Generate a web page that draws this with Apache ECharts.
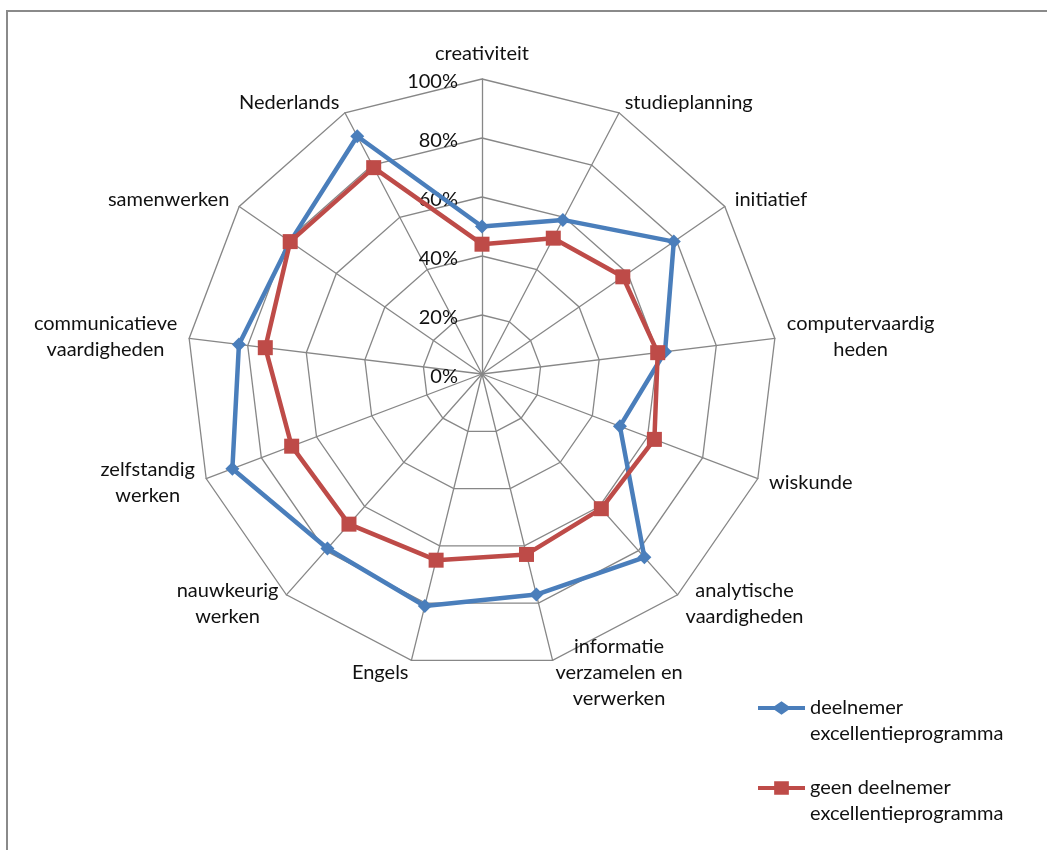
<!DOCTYPE html>
<html>
<head>
<meta charset="utf-8">
<script src="https://cdn.jsdelivr.net/npm/echarts@6/dist/echarts.min.js"></script>
<style>
html,body{margin:0;padding:0;background:#fff;overflow:hidden}
#c{width:1047px;height:850px;position:absolute;left:0;top:0}
#frame{position:absolute;left:6px;top:10px;width:1100px;height:900px;border-left:2px solid #8a8a8a;border-top:2px solid #8a8a8a;pointer-events:none}
</style>
</head>
<body>
<div id="c"></div>
<div id="frame"></div>
<script>
// Categories in clockwise order starting at the top
const categories = ['creativiteit', 'studieplanning', 'initiatief', 'computervaardig\nheden', 'wiskunde',
  'analytische\nvaardigheden', 'informatie\nverzamelen en\nverwerken', 'Engels', 'nauwkeurig\nwerken',
  'zelfstandig\nwerken', 'communicatieve\nvaardigheden', 'samenwerken', 'Nederlands'];
const deelnemer = [50, 59, 79, 62.5, 50, 83, 77, 81, 79, 90.5, 83, 79, 91];
const geenDeelnemer = [44, 52, 58, 60, 62.5, 61, 63, 65, 68, 69, 74, 79, 79];
const seriesNames = ['deelnemer\nexcellentieprogramma', 'geen deelnemer\nexcellentieprogramma'];
const percentTicks = [0, 20, 40, 60, 80, 100];

// ECharts radar runs counter-clockwise: reorder so the picture goes clockwise
const order = [0];
for (let i = categories.length - 1; i >= 1; i--) order.push(i);

const FONT = 'Lato';
const TXT = '#111';
const GRID = '#878787';

const chart = echarts.init(document.getElementById('c'), null, {renderer: 'canvas'});
chart.setOption({
  animation: false,
  backgroundColor: '#fff',
  grid: {left: 482, top: 79, width: 1, height: 295, show: false},
  xAxis: {type: 'value', show: false},
  yAxis: {
    type: 'value',
    min: percentTicks[0],
    max: percentTicks[percentTicks.length - 1],
    interval: percentTicks[1] - percentTicks[0],
    axisLine: {show: false},
    axisTick: {show: false},
    splitLine: {show: false},
    axisLabel: {margin: 24, formatter: v => '{p|' + v + '%}',
      rich: {p: {fontFamily: FONT, fontSize: 20, color: TXT, padding: [6, 0, 0, 0]}},
      fontFamily: FONT, fontSize: 20, color: TXT}
  },
  radar: {
    center: [482, 374],
    radius: 295,
    startAngle: 90,
    splitNumber: 5,
    shape: 'polygon',
    nameGap: 12,
    indicator: order.map(i => ({name: categories[i], min: 0, max: 100})),
    axisName: {
      formatter: n => n.split('\n').map(s => '{c|' + s + '}').join('\n'),
      fontFamily: FONT, fontSize: 20, lineHeight: 26, color: TXT,
      rich: {c: {align: 'center', fontFamily: FONT, fontSize: 20, lineHeight: 26, color: TXT}}
    },
    axisLine: {lineStyle: {color: GRID, width: 1.3}},
    splitLine: {lineStyle: {color: GRID, width: 1.3}},
    splitArea: {show: false},
    axisTick: {show: false},
    axisLabel: {show: false}
  },
  legend: {
    orient: 'vertical',
    left: 753,
    top: 664,
    itemWidth: 47,
    itemHeight: 14,
    itemGap: 2,
    selectedMode: false,
    itemStyle: {borderWidth: 0},
    formatter: name => '\n' + name,
    textStyle: {fontFamily: FONT, fontSize: 20, lineHeight: 26, color: TXT},
    data: [
      {name: seriesNames[0], icon: 'path://M0,5 L17,5 L24,0 L31,5 L48,5 L48,9 L31,9 L24,14 L17,9 L0,9 Z'},
      {name: seriesNames[1], icon: 'path://M0,5 L16.5,5 L16.5,0 L31.5,0 L31.5,5 L48,5 L48,9 L31.5,9 L31.5,14 L16.5,14 L16.5,9 L0,9 Z'}
    ]
  },
  series: [
    {
      type: 'radar', z: 2,
      symbol: 'diamond', symbolSize: 14,
      lineStyle: {color: '#4A7EBB', width: 4.5},
      itemStyle: {color: '#4A7EBB'},
      data: [{name: seriesNames[0], value: order.map(i => deelnemer[i])}]
    },
    {
      type: 'radar', z: 3,
      symbol: 'rect', symbolSize: 15,
      lineStyle: {color: '#BE4B48', width: 4.5},
      itemStyle: {color: '#BE4B48'},
      data: [{name: seriesNames[1], value: order.map(i => geenDeelnemer[i])}]
    }
  ]
});
</script>
</body>
</html>
